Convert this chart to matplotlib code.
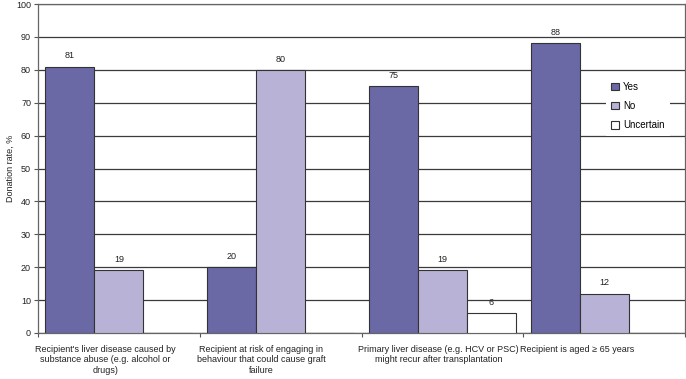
import numpy as np
import matplotlib
matplotlib.use("Agg")
import matplotlib.pyplot as plt

plt.rcParams["font.family"] = ["Liberation Sans", "DejaVu Sans"]

# -------------------------
# Data
# -------------------------
categories = [
    "Recipient's liver disease caused by\nsubstance abuse (e.g. alcohol or\ndrugs)",
    "Recipient at risk of engaging in\nbehaviour that could cause graft\nfailure",
    "Primary liver disease (e.g. HCV or PSC)\nmight recur after transplantation",
    "Recipient is aged \u2265 65 years",
]
yes = [81, 20, 75, 88]
no = [19, 80, 19, 12]
uncertain = [0, 0, 6, 0]
series_names = ["Yes", "No", "Uncertain"]
colors = ["#6b68a6", "#b8b2d6", "#ffffff"]

# -------------------------
# Plot
# -------------------------
fig = plt.figure(figsize=(6.86, 3.79), dpi=100)
ax = fig.add_axes([0.0554, 0.1214, 0.9432, 0.868])

x = np.arange(len(categories))
width = 0.303
edge = "#333333"
for k, (vals, name, col) in enumerate(zip([yes, no, uncertain], series_names, colors)):
    pos = x + (k - 1) * width
    ax.bar(pos, vals, width, color=col, edgecolor=edge, linewidth=0.8,
           label=name, zorder=3)
    for p, v in zip(pos, vals):
        if v > 0:
            ax.text(p, v + 1.9, str(v), ha="center", va="bottom",
                    fontsize=6.5, color="#222222", zorder=4)

ax.set_xlim(-0.5, len(categories) - 0.5)
ax.set_ylim(0, 100)
ax.set_yticks(range(0, 101, 10))
ax.tick_params(axis="y", labelsize=6.5, length=3, width=0.8, color="#555555",
               labelcolor="#222222", pad=2)
ax.set_xticks(np.arange(-0.5, len(categories), 1.0))
ax.set_xticklabels([])
ax.tick_params(axis="x", length=3, width=0.8, color="#555555")

ax.yaxis.grid(True, color="#3a3a3a", linewidth=0.9, zorder=0)
ax.set_axisbelow(True)
for side in ["left", "right", "bottom", "top"]:
    ax.spines[side].set_color("#666666")
    ax.spines[side].set_linewidth(0.9)

fig.text(10 / 686, 0.1214 + 0.868 / 2, "Donation rate, %", rotation=90,
         ha="center", va="center", fontsize=6.5, color="#222222")

for i, lab in enumerate(categories):
    ax.text(i - 0.52, -3.6, lab, ha="left", va="top", multialignment="center",
            fontsize=6.5, color="#222222", linespacing=1.22, clip_on=False)

leg = ax.legend(loc="center left", bbox_to_anchor=(0.87, 0.69), fontsize=7,
                frameon=True, fancybox=False, edgecolor="none", facecolor="white",
                framealpha=1, handlelength=0.8, handleheight=0.8,
                handletextpad=0.4, labelspacing=0.95, borderpad=0.55)
for h in leg.legend_handles:
    h.set_edgecolor(edge)
    h.set_linewidth(0.8)
leg.set_zorder(5)

fig.savefig("out.png", dpi=100)
